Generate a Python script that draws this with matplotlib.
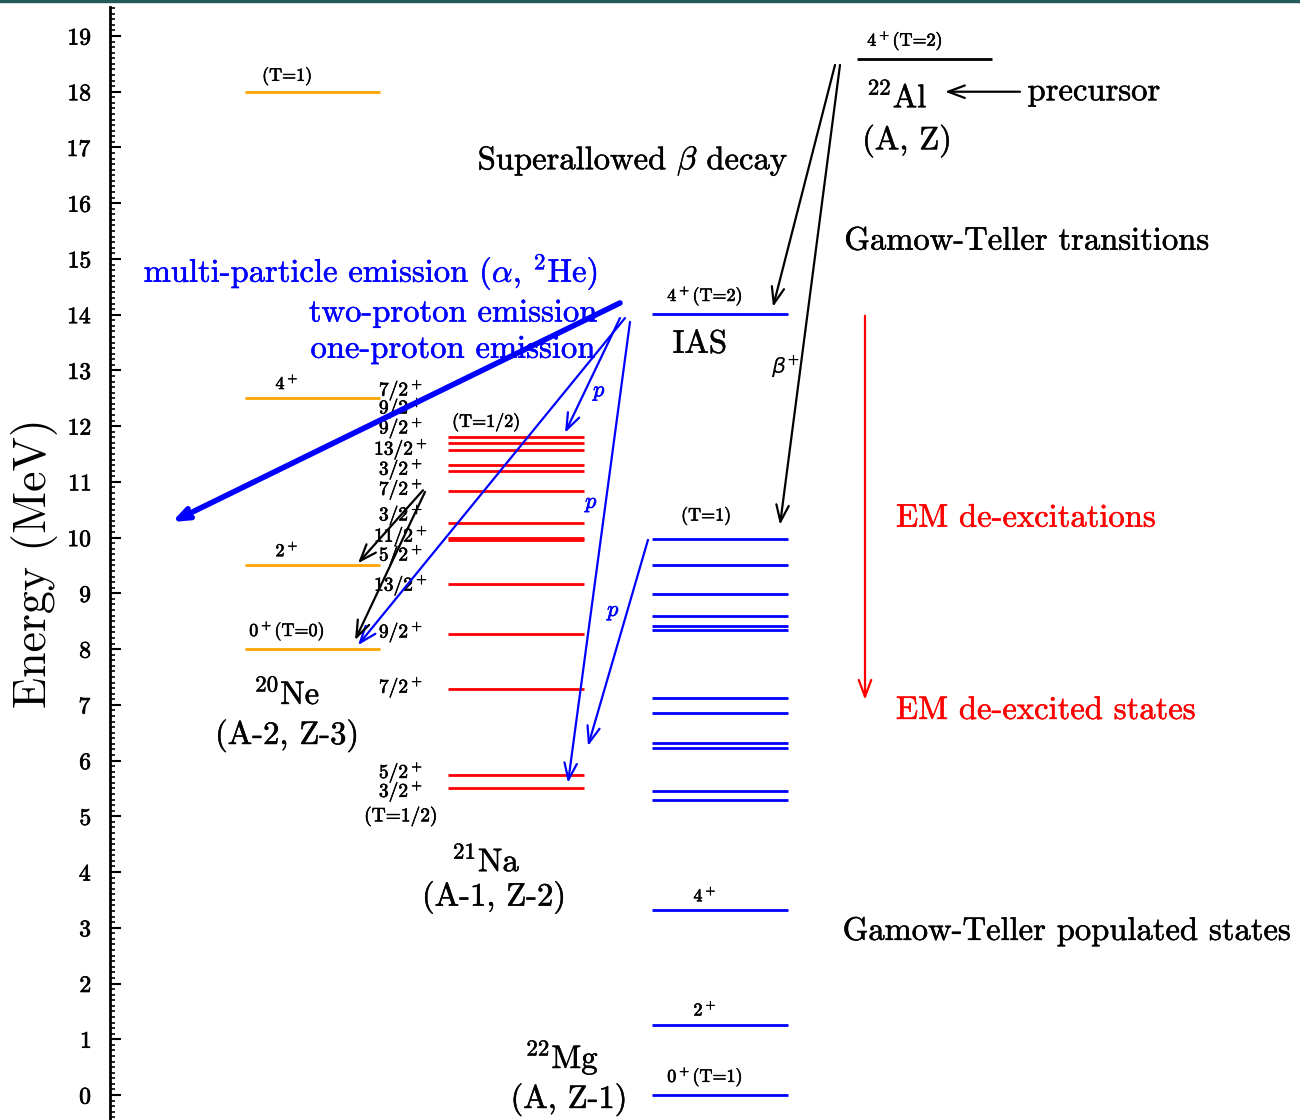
import matplotlib
matplotlib.use('Agg')
import matplotlib.pyplot as plt
import matplotlib.patheffects as pe
from matplotlib.patches import Rectangle
import numpy as np

plt.rcParams.update({'font.family': 'serif',
                     'font.serif': ['cmr10'],
                     'mathtext.fontset': 'cm',
                     'axes.unicode_minus': False,
                     'axes.formatter.use_mathtext': True})

# level energies (MeV)
ne20_levels = [18.0, 12.5, 9.5, 8.0]
ne20_spins = ['(T=1)', r'4$^+$', r'2$^+$', r'0$^+$(T=0)']

na21_levels = [11.80, 11.69, 11.57, 11.30, 11.20, 10.84, 10.26, 10.00, 9.95,
               9.16, 8.27, 7.28, 5.74, 5.51]
na21_spins = [r'7/2$^+$', r'9/2$^+$', r'9/2$^+$', r'13/2$^+$', r'3/2$^+$', r'7/2$^+$',
              r'3/2$^+$', r'11/2$^+$', r'5/2$^+$', r'13/2$^+$', r'9/2$^+$', r'7/2$^+$',
              r'5/2$^+$', r'3/2$^+$', '(T=1/2)']
na21_spin_E = [12.65, 12.33, 11.97, 11.59, 11.23, 10.87, 10.41, 10.03, 9.69,
               9.15, 8.31, 7.32, 5.79, 5.45, 5.00]

mg22_levels = [9.97, 9.51, 8.99, 8.59, 8.42, 8.35, 7.13, 6.86, 6.31, 6.22,
               5.45, 5.29, 3.31, 1.26, 0.0]
mg22_ias = 14.01
al22_level = 18.59

fig = plt.figure(figsize=(13, 11.2), dpi=100)
ax = fig.add_axes([110/1300, 0, 1190/1300, 1113/1120])
ax.set_xlim(110, 1300)
ax.set_ylim(-0.449, 19.52)

# level lines
ax.hlines(ne20_levels, 245, 380, color='orange', lw=2)
ax.hlines(na21_levels, 448, 584, color='red', lw=2)
ax.hlines(mg22_levels, 652, 788, color='blue', lw=2)
ax.hlines(mg22_ias, 652, 788, color='blue', lw=2)
ax.hlines(al22_level, 857, 992, color='black', lw=2)

small = 13
big = 23.5


def stroke(c, w):
    return [pe.withStroke(linewidth=w, foreground=c)]


def txt(x, y, s, size=big, color='black', ha='center', va='center', w=None):
    if w is None:
        w = 0.35 if size == big else 0.45
    return ax.text(x, y, s, ha=ha, va=va, fontsize=size, color=color,
                   path_effects=stroke(color, w))


# 20Ne labels
for E, s in zip(ne20_levels, ne20_spins):
    txt(287, E + 0.11, s, size=small, va='bottom')
txt(287, 7.2, r'$^{20}$Ne')
txt(287, 6.45, '(A-2, Z-3)')

# 21Na labels
for E, s in zip(na21_spin_E, na21_spins):
    txt(401, E, s, size=14)
txt(486, 11.9, '(T=1/2)', size=small, va='bottom')
txt(486, 4.2, r'$^{21}$Na')
txt(494, 3.55, '(A-1, Z-2)')

# 22Mg labels
txt(705, mg22_ias + 0.11, r'4$^+$(T=2)', size=small, va='bottom')
txt(700, 13.47, 'IAS')
txt(706, 10.22, '(T=1)', size=small, va='bottom')
txt(705, 3.31 + 0.11, r'4$^+$', size=small, va='bottom')
txt(705, 1.26 + 0.11, r'2$^+$', size=small, va='bottom')
txt(705, 0.11, r'0$^+$(T=1)', size=small, va='bottom')
txt(562, 0.68, r'$^{22}$Mg')
txt(569, -0.08, '(A, Z-1)')

# 22Al labels
txt(905, al22_level + 0.11, r'4$^+$(T=2)', size=small, va='bottom')
txt(897, 17.9, r'$^{22}$Al')
txt(907, 17.12, '(A, Z)')
txt(1094, 18.0, 'precursor')

txt(633, 16.76, r'Superallowed $\beta$ decay')
txt(1027, 15.32, 'Gamow-Teller transitions')
txt(1067, 2.94, 'Gamow-Teller populated states')
txt(1026, 10.35, 'EM de-excitations', color='red')
txt(1046, 6.9, 'EM de-excited states', color='red')

txt(598, 14.76, r'multi-particle emission ($\alpha$, $^{2}$He)', color='blue', ha='right')
txt(598, 14.03, 'two-proton emission', color='blue', ha='right')
txt(596, 13.38, 'one-proton emission', color='blue', ha='right')

txt(600, 12.6, r'$p$', size=16, color='blue', w=0.5)
txt(592, 10.6, r'$p$', size=16, color='blue', w=0.5)
txt(614, 8.66, r'$p$', size=16, color='blue', w=0.5)
ax.text(786, 13.05, r'$\beta^{+}$', ha='center', va='center', fontsize=16,
        family=['DejaVu Sans'], math_fontfamily='dejavusans')


def arrow(x0, y0, x1, y1, color='k', lw=1.6, hl=1.2, hw=0.45):
    ax.annotate('', xy=(x1, y1), xytext=(x0, y0),
                arrowprops=dict(arrowstyle='->,head_length=%g,head_width=%g' % (hl, hw),
                                color=color, lw=lw, shrinkA=0, shrinkB=0))


# beta decay arrows
arrow(835, 18.48, 773, 14.14)
arrow(840, 18.48, 780, 10.23)
arrow(1020, 18.0, 945, 18.0)
# EM de-excitation
arrow(865, 13.98, 865, 7.09, color='red')
# particle emission
ax.annotate('', xy=(172, 10.28), xytext=(620, 14.21),
            arrowprops=dict(arrowstyle='->,head_length=0.9,head_width=0.35',
                            color='blue', lw=4, shrinkA=0, shrinkB=0))
arrow(625, 13.94, 358, 8.07, color='blue')
arrow(620, 13.94, 565, 11.88, color='blue')
arrow(630, 13.87, 568, 5.60, color='blue')
arrow(648, 9.96, 588, 6.26, color='blue')
# EM in 21Na
arrow(423, 10.85, 358, 9.54)
arrow(425, 10.82, 355, 8.16)

# axes style
for side in ['top', 'right', 'bottom']:
    ax.spines[side].set_visible(False)
ax.spines['left'].set_linewidth(2)
ax.set_xticks([])
ax.set_yticks(np.arange(0, 20, 1))
ax.set_yticks(np.arange(-0.4, 19.55, 0.1), minor=True)
ax.tick_params(axis='y', which='major', direction='in', length=8, width=1.5, labelsize=17, pad=13)
ax.tick_params(axis='y', which='minor', direction='in', length=3.5, width=1.2)
for lab in ax.get_yticklabels():
    lab.set_path_effects(stroke('black', 0.5))
ax.set_ylabel('Energy (MeV)', fontsize=33, labelpad=6)

fig.add_artist(Rectangle((0, 1 - 2/1120), 1, 2/1120, color='#24585a',
                         transform=fig.transFigure))

fig.savefig('out.png', dpi=100)
